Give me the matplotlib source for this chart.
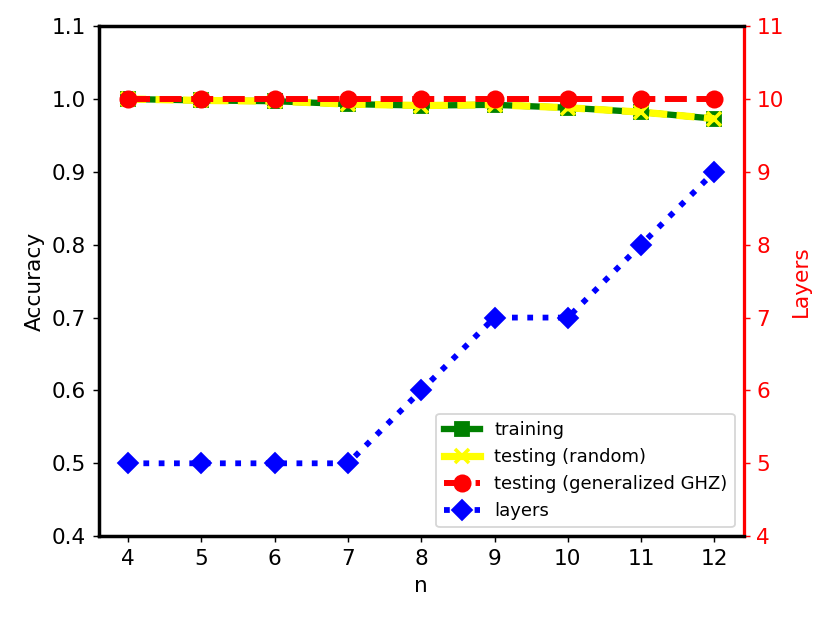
import matplotlib
matplotlib.use("Agg")
import matplotlib.pyplot as plt
from matplotlib.lines import Line2D

n = [4, 5, 6, 7, 8, 9, 10, 11, 12]
training = [1.0, 0.998, 0.997, 0.993, 0.991, 0.992, 0.988, 0.982, 0.973]
testing_random = [1.0, 0.998, 0.997, 0.993, 0.991, 0.992, 0.988, 0.982, 0.973]
testing_ghz = [1.0, 1.0, 1.0, 1.0, 1.0, 1.0, 1.0, 1.0, 1.0]
layers = [5, 5, 5, 5, 6, 7, 7, 8, 9]

fig = plt.figure(figsize=(830/130, 622/130), dpi=130)
ax = fig.add_axes([0.119, 0.138, 0.777, 0.820])
ax2 = ax.twinx()

ax.plot(n, training, color='green', linestyle='-', linewidth=3.5,
        marker='s', markersize=8, zorder=2)
ax.plot(n, testing_random, color='yellow', linestyle=(0, (2.5, 1.3)), linewidth=4,
        marker='x', markersize=8, markeredgewidth=2, zorder=3)
ax.plot(n, testing_ghz, color='red', linestyle='--', linewidth=3.3,
        marker='o', markersize=9, zorder=4)
ax2.plot(n, layers, color='blue', linestyle=':', linewidth=3.2,
         marker='D', markersize=8)

ax.set_ylim(0.4, 1.1)
ax2.set_ylim(4, 11)
ax.set_xticks(n)
ax.set_xlabel('n', fontsize=12)
ax.set_ylabel('Accuracy', fontsize=12)
ax2.set_ylabel('Layers', fontsize=12, color='red')
ax.tick_params(labelsize=12)
ax2.tick_params(axis='y', labelsize=12, colors='red')

for sp in ['left', 'bottom', 'top']:
    ax.spines[sp].set_linewidth(1.8)
    ax2.spines[sp].set_linewidth(1.8)
ax2.spines['right'].set_linewidth(1.8)
ax2.spines['right'].set_color('red')
ax.spines['right'].set_visible(False)

handles = [
    Line2D([], [], color='green', linestyle='-', linewidth=3.5, marker='s', markersize=8),
    Line2D([], [], color='yellow', linestyle='-', linewidth=4, marker='x', markersize=8, markeredgewidth=2),
    Line2D([], [], color='red', linestyle='--', linewidth=3.3, marker='o', markersize=9),
    Line2D([], [], color='blue', linestyle=':', linewidth=3.2, marker='D', markersize=8),
]
labels = ['training', 'testing (random)', 'testing (generalized GHZ)', 'layers']
ax2.legend(handles, labels, loc='lower right', fontsize=10)

fig.savefig('out.png', dpi=130)
